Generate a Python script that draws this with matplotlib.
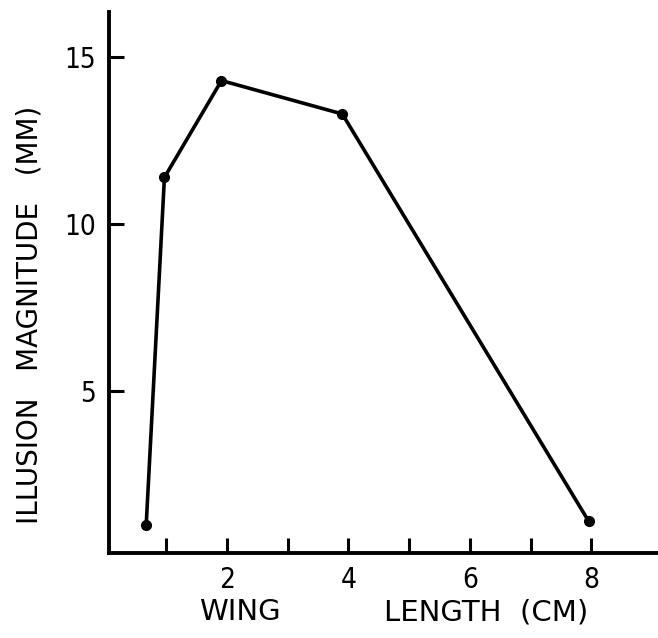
import matplotlib.pyplot as plt

# wing length (cm) vs illusion magnitude (mm)
wing_len = [0.67, 0.97, 1.91, 3.9, 7.96]
illusion = [1.0, 11.4, 14.3, 13.3, 1.1]

x_ticks = [1, 2, 3, 4, 5, 6, 7, 8]
x_ticklabels = ['', '2', '', '4', '', '6', '', '8']
y_ticks = [5, 10, 15]
y_ticklabels = ['5', '10', '15']

plt.rcParams['font.family'] = ['DejaVu Sans']

fig = plt.figure(figsize=(6.58, 6.38), dpi=100)
ax = fig.add_axes([0.165, 0.133, 0.835, 0.848])

ax.plot(wing_len, illusion, color='black', lw=2.6, marker='o', ms=7,
        solid_joinstyle='round', clip_on=False)

ax.set_xlim(0.05, 9.1)
ax.set_ylim(0.15, 16.35)

for s in ['top', 'right']:
    ax.spines[s].set_visible(False)
for s in ['left', 'bottom']:
    ax.spines[s].set_linewidth(2.8)

ax.set_xticks(x_ticks)
ax.set_xticklabels(x_ticklabels, fontsize=20, fontstretch='condensed')
ax.set_yticks(y_ticks)
ax.set_yticklabels(y_ticklabels, fontsize=20, fontstretch='condensed')
ax.tick_params(axis='both', direction='in', length=11, width=2.2, color='black')
ax.tick_params(axis='x', pad=9)
ax.tick_params(axis='y', pad=9)

fig.text(30 / 658, 1 - 315 / 638, 'ILLUSION   MAGNITUDE   (MM)', fontsize=20,
         rotation=90, ha='center', va='center')
fig.text(240 / 658, 1 - 612 / 638, 'WING', fontsize=21, ha='center', va='center')
fig.text(486 / 658, 1 - 612 / 638, 'LENGTH  (CM)', fontsize=21, ha='center', va='center')

fig.savefig('out.png', dpi=100)
